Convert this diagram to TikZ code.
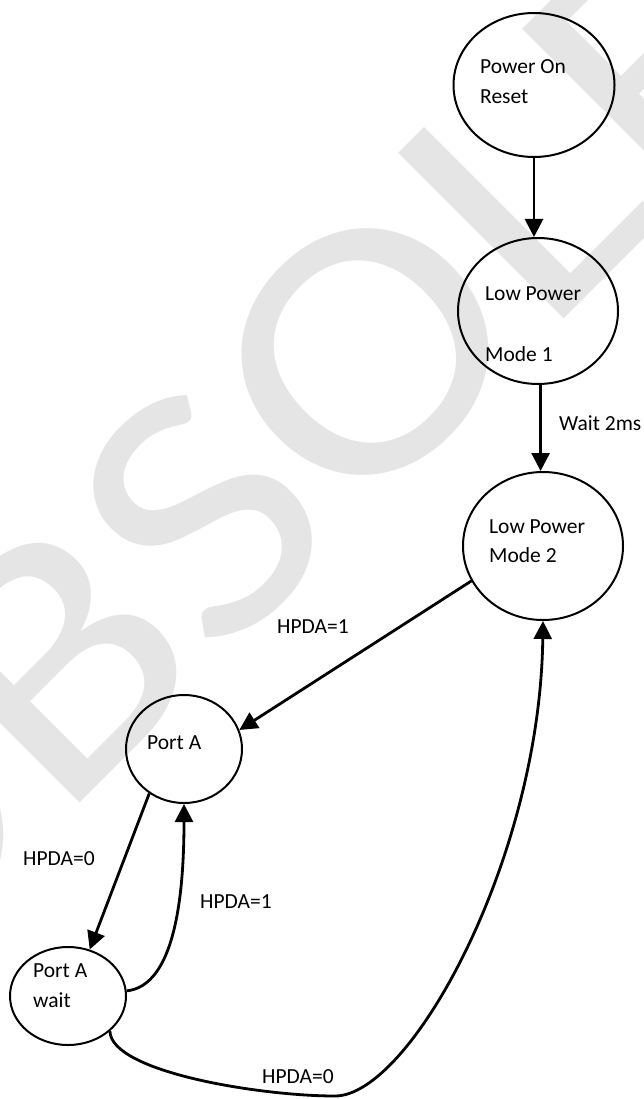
\documentclass[tikz,border=0pt]{standalone}
\usepackage{fontspec}
\setmainfont{Carlito}
\newfontfamily\wmfont{Carlito}
\usetikzlibrary{arrows.meta,shapes.geometric}
\begin{document}
\begin{tikzpicture}[x=1pt,y=-1pt,
  state/.style={draw, ellipse, line width=2pt, inner sep=0pt},
  txt/.style={anchor=base west, inner sep=0pt, font=\fontsize{21.5}{25}\selectfont},
  arr/.style={line width=2.8pt, -{Triangle[length=18pt,width=18pt]}},
  wm/.style={text=black!10, inner sep=0pt, font=\wmfont\fontsize{365}{365}\selectfont}]
\useasboundingbox (0,0) rectangle (644,1099);
\clip (0,0) rectangle (644,1099);
% watermark
\node[wm, anchor=base west, rotate=45, xscale=1.13] (wmark) at (-134,1017) {OBSOLETE};
% states
\node[state, minimum width=161pt, minimum height=144pt] (por) at (534,85) {};
\node[state, minimum width=160pt, minimum height=146pt] (lpm1) at (538,311) {};
\node[state, minimum width=160pt, minimum height=148pt] (lpm2) at (543,546) {};
\node[state, minimum width=116pt, minimum height=108pt] (pa) at (184,749) {};
\node[state, minimum width=116pt, minimum height=98pt] (paw) at (68,996) {};
% state texts
\node[txt] (porA) at (480,74) {Power On};
\node[txt] (porB) at (480,104) {Reset};
\node[txt] (lpmA) at (485,300) {Low Power};
\node[txt] (lpmB) at (485,361) {Mode 1};
\node[txt] (lpmC) at (489,533) {Low Power};
\node[txt] (lpmD) at (489,562) {Mode 2};
\node[txt] (paA) at (147,749) {Port A};
\node[txt] (pawA) at (33,977) {Port A};
\node[txt] (pawB) at (33,1007) {wait};
% transitions
\draw[arr] (por.south) -- (por.south |- lpm1.north);
\draw[arr] (lpm1.-88) -- (lpm1.-88 |- lpm2.north);
\draw[arr] (lpm2.206) -- (pa.19);
\draw[arr] (pa.232) -- (paw.65);
\draw[arr] (paw.5) .. controls +(48,-5) and +(0,92) .. (pa.south);
\draw[arr] (paw.-40) .. controls (111,1072) and (260,1096) .. (335,1096)
  .. controls (410,1096) and (540,860) .. (lpm2.south);
% labels
\node[txt] (l1) at (559,430) {Wait 2ms};
\node[txt] (l2) at (277,633) {HPDA=1};
\node[txt] (l3) at (23,865) {HPDA=0};
\node[txt] (l4) at (200,908) {HPDA=1};
\node[txt] (l5) at (262,1083) {HPDA=0};
\end{tikzpicture}
\end{document}
